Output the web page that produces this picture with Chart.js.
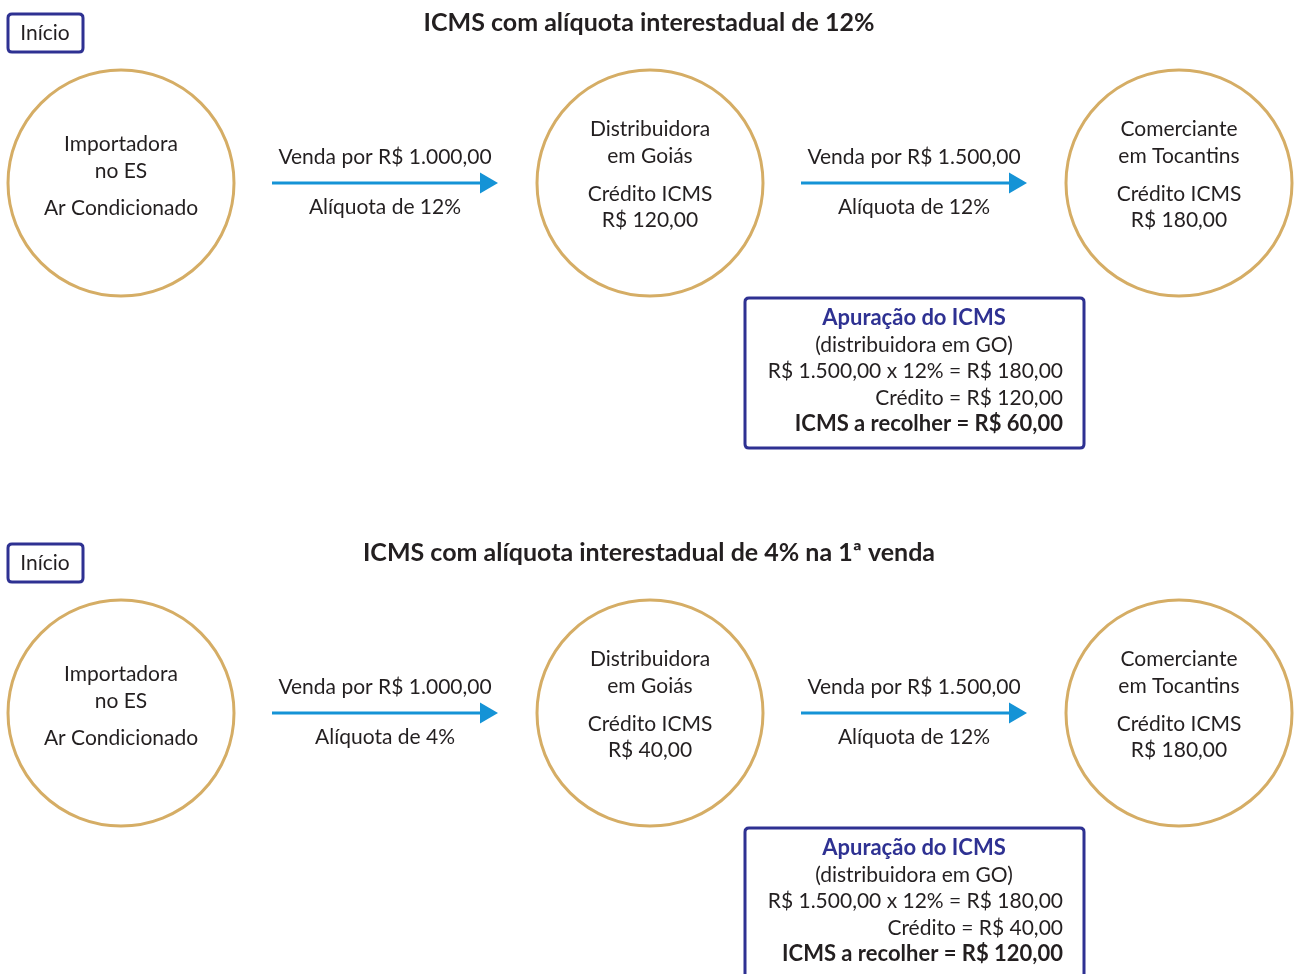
<!DOCTYPE html>
<html>
<head>
<meta charset="utf-8">
<script src="https://cdn.jsdelivr.net/npm/chart.js@4.4.0/dist/chart.umd.min.js"></script>
<style>
  body { margin: 0; background: #fff; }
  #wrap { width: 1294px; height: 974px; }
</style>
</head>
<body>
<div id="wrap"><canvas id="chartCanvas" width="1294" height="974"></canvas></div>
<script>
// dados do fluxograma
var titles = ["ICMS com alíquota interestadual de 12%", "ICMS com alíquota interestadual de 4% na 1ª venda"];
var stages = [["Importadora", "no ES"], ["Distribuidora", "em Goiás"], ["Comerciante", "em Tocantins"]];
var product = "Ar Condicionado";
var salePrices = [1000, 1500];
var rates = [[12, 12], [4, 12]];
var credits = [[120, 180], [40, 180]];
var outputTax = [180, 180];
var taxDue = [60, 120];

// layout
var nodeX = [121, 650, 1179];
var rowY = [183, 713];
var circleR = 113;
var arrowX = [[272, 486], [801, 1015]];

var textColor = "#231f20";
var navy = "#2e3192";
var gold = "#d5ad65";
var blue = "#1593d6";
var FONT = "Lato, 'Open Sans', sans-serif";
var REG = "21px " + FONT;
var BOLD = "bold 22px " + FONT;

function brl(v) {
    var parts = v.toFixed(2).split(".");
    var ints = parts[0].replace(/\B(?=(\d{3})+(?!\d))/g, ".");
    return "R$ " + ints + "," + parts[1];
}

var datasets = [];
var circlePts = [];
for (var s = 0; s < rowY.length; s++) {
    for (var i = 0; i < nodeX.length; i++) {
        circlePts.push({ x: nodeX[i], y: rowY[s] });
    }
}
datasets.push({
    type: "scatter",
    data: circlePts,
    pointRadius: circleR,
    pointBorderWidth: 3,
    pointBorderColor: gold,
    pointBackgroundColor: "rgba(0,0,0,0)"
});
for (var s = 0; s < rowY.length; s++) {
    for (var a = 0; a < arrowX.length; a++) {
        datasets.push({
            type: "line",
            data: [{ x: arrowX[a][0], y: rowY[s] }, { x: arrowX[a][1], y: rowY[s] }],
            borderColor: blue,
            borderWidth: 3,
            pointRadius: 0
        });
        datasets.push({
            type: "scatter",
            data: [{ x: arrowX[a][1], y: rowY[s] }],
            pointStyle: "triangle",
            rotation: 90,
            pointRadius: 12,
            pointBorderWidth: 0,
            pointBackgroundColor: blue,
            pointBorderColor: blue
        });
    }
}

function roundRect(ctx, x, y, w, h, r) {
    ctx.beginPath();
    ctx.moveTo(x + r, y);
    ctx.lineTo(x + w - r, y);
    ctx.quadraticCurveTo(x + w, y, x + w, y + r);
    ctx.lineTo(x + w, y + h - r);
    ctx.quadraticCurveTo(x + w, y + h, x + w - r, y + h);
    ctx.lineTo(x + r, y + h);
    ctx.quadraticCurveTo(x, y + h, x, y + h - r);
    ctx.lineTo(x, y + r);
    ctx.quadraticCurveTo(x, y, x + r, y);
    ctx.closePath();
}

var textPlugin = {
    id: "textPlugin",
    afterDatasetsDraw: function (chart) {
        var ctx = chart.ctx;
        var sx = chart.scales.x, sy = chart.scales.y;
        function X(v) { return sx.getPixelForValue(v); }
        function Y(v) { return sy.getPixelForValue(v); }
        ctx.save();
        ctx.textBaseline = "middle";
        for (var s = 0; s < rowY.length; s++) {
            var cy = rowY[s];
            // Início
            ctx.strokeStyle = navy;
            ctx.lineWidth = 3;
            roundRect(ctx, X(8), Y(cy - 169), X(83) - X(8), Y(cy - 131) - Y(cy - 169), 4);
            ctx.stroke();
            ctx.fillStyle = textColor;
            ctx.font = REG;
            ctx.textAlign = "center";
            ctx.fillText("Início", X(45), Y(cy - 150));
            // título
            ctx.font = "bold 25px " + FONT;
            ctx.fillText(titles[s], X(649), Y(cy - 160));
            // textos nos círculos
            ctx.font = REG;
            ctx.fillText(stages[0][0], X(nodeX[0]), Y(cy - 39));
            ctx.fillText(stages[0][1], X(nodeX[0]), Y(cy - 12));
            ctx.fillText(product, X(nodeX[0]), Y(cy + 25));
            for (var i = 1; i < 3; i++) {
                ctx.fillText(stages[i][0], X(nodeX[i]), Y(cy - 54));
                ctx.fillText(stages[i][1], X(nodeX[i]), Y(cy - 27));
                ctx.fillText("Crédito ICMS", X(nodeX[i]), Y(cy + 11));
                ctx.fillText(brl(credits[s][i - 1]), X(nodeX[i]), Y(cy + 37));
            }
            // textos das setas
            for (var a = 0; a < 2; a++) {
                var mx = (arrowX[a][0] + arrowX[a][1] + 12) / 2;
                ctx.fillText("Venda por " + brl(salePrices[a]), X(mx), Y(cy - 26));
                ctx.fillText("Alíquota de " + rates[s][a] + "%", X(mx), Y(cy + 24));
            }
            // apuração
            ctx.strokeStyle = navy;
            ctx.lineWidth = 3;
            roundRect(ctx, X(745), Y(cy + 115), X(1084) - X(745), Y(cy + 265) - Y(cy + 115), 4);
            ctx.stroke();
            ctx.fillStyle = navy;
            ctx.font = BOLD;
            ctx.fillText("Apuração do ICMS", X(914), Y(cy + 135));
            ctx.fillStyle = textColor;
            ctx.font = REG;
            ctx.fillText("(distribuidora em GO)", X(914), Y(cy + 162));
            ctx.textAlign = "right";
            ctx.fillText(brl(salePrices[1]) + " x " + rates[s][1] + "% = " + brl(outputTax[s]), X(1063), Y(cy + 188));
            ctx.fillText("Crédito = " + brl(credits[s][0]), X(1063), Y(cy + 215));
            ctx.font = BOLD;
            ctx.fillText("ICMS a recolher = " + brl(taxDue[s]), X(1063), Y(cy + 241));
        }
        ctx.restore();
    }
};

new Chart(document.getElementById("chartCanvas").getContext("2d"), {
    type: "scatter",
    data: { datasets: datasets },
    options: {
        responsive: false,
        animation: false,
        events: [],
        layout: { padding: 0, autoPadding: false },
        plugins: { legend: { display: false }, tooltip: { enabled: false } },
        scales: {
            x: { type: "linear", min: 0, max: 1294, display: false },
            y: { type: "linear", min: 0, max: 974, reverse: true, display: false }
        }
    },
    plugins: [textPlugin]
});
</script>
</body>
</html>
